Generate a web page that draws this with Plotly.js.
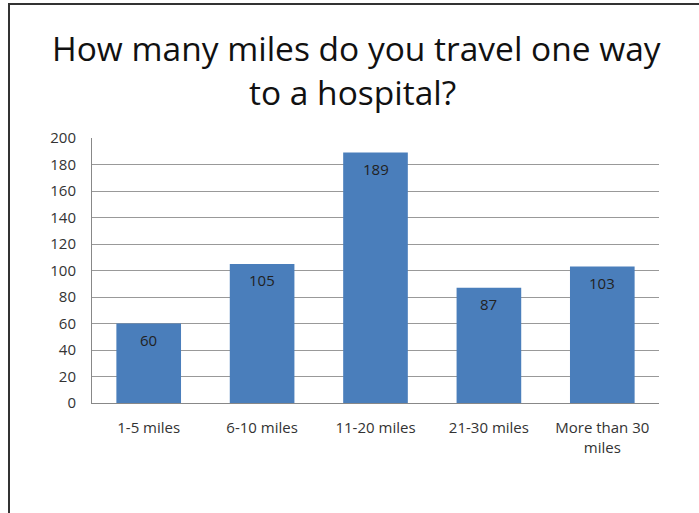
<!DOCTYPE html>
<html><head><meta charset="utf-8">
<script src="https://cdn.plot.ly/plotly-3.0.1.min.js"></script>
<style>html,body{margin:0;padding:0;background:#fff}#frame{position:absolute;left:8px;top:3px;width:691px;height:510px;border-left:2px solid #333;border-top:2px solid #333;box-sizing:border-box}#chart{position:absolute;left:0;top:0;width:699px;height:513px}</style>
</head><body>
<div id="frame"></div>
<div id="chart"></div>
<script>
const categories = ["1-5 miles", "6-10 miles", "11-20 miles", "21-30 miles", "More than 30<br>miles"];
const values = [60, 105, 189, 87, 103];
const yTicks = [0, 20, 40, 60, 80, 100, 120, 140, 160, 180, 200];
const titleLines = ["How many miles do you travel one way", "to a hospital?"];

const FONT = 'Open Sans, sans-serif';
const trace = {
  type: 'bar', x: categories, y: values,
  marker: {color: '#4a7ebb'}, hoverinfo: 'none'
};

const plotTop = 138, plotBottom = 403, plotH = plotBottom - plotTop;
const plotLeft = 92, plotRight = 659, plotW = plotRight - plotLeft;
const toPaperY = px => (plotBottom - px) / plotH;
const toPaperX = px => (px - plotLeft) / plotW;

const annotations = [];
// bar value labels, positioned through the data scales
categories.forEach((c, i) => {
  annotations.push({x: c, y: values[i], xref: 'x', yref: 'y', text: String(values[i]),
    showarrow: false, yanchor: 'middle', yshift: -16,
    font: {family: FONT, size: 15, color: '#222'}});
});
// title lines
[[356, 48], [352, 92]].forEach(([cx, cy], i) => {
  annotations.push({x: toPaperX(cx), y: toPaperY(cy), xref: 'paper', yref: 'paper',
    text: titleLines[i], showarrow: false, xanchor: 'center', yanchor: 'middle',
    font: {family: FONT, size: 33.5, color: '#111'}});
});

const layout = {
  width: 699, height: 513,
  paper_bgcolor: 'rgba(0,0,0,0)', plot_bgcolor: 'rgba(0,0,0,0)',
  margin: {l: plotLeft, r: 699 - plotRight, t: plotTop, b: 513 - plotBottom},
  bargap: 0.43,
  showlegend: false,
  annotations: annotations,
  xaxis: {type: 'category', showline: true, linecolor: '#888', linewidth: 1, ticks: '', showgrid: false,
    tickfont: {family: FONT, size: 15, color: '#333'}, ticklabelstandoff: 11, fixedrange: true},
  yaxis: {range: [0, 200], tickvals: yTicks, showline: true, linecolor: '#888', linewidth: 1,
    gridcolor: '#999', gridwidth: 1, zeroline: false, ticks: '', ticklabelstandoff: 12,
    tickfont: {family: FONT, size: 15, color: '#333'}, fixedrange: true}
};
Plotly.newPlot('chart', [trace], layout, {displayModeBar: false, staticPlot: true});
</script>
</body></html>
